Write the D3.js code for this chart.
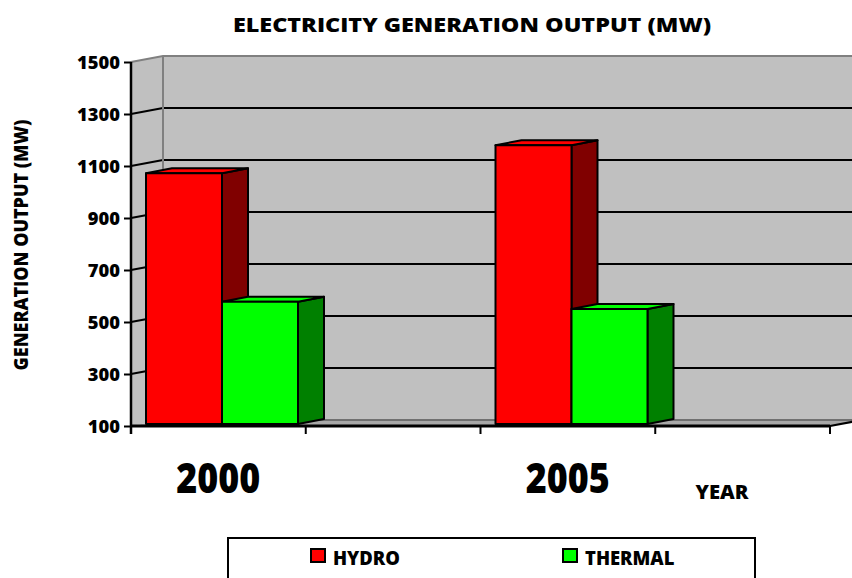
<!DOCTYPE html>
<html><head><meta charset="utf-8">
<script src="https://cdn.jsdelivr.net/npm/d3@7"></script>
<style>
body{margin:0;background:#fff}
svg{display:block}
text{font-family:"Open Sans",sans-serif;font-weight:800;fill:#000}
</style>
</head><body>
<svg id="c" width="852" height="578"></svg>
<script>
// ---- data ----
const categories = ["2000", "2005"];
const seriesNames = ["HYDRO", "THERMAL"];
const hydroValues = [1072, 1180];
const thermalValues = [578, 550];
const yTicks = [100, 300, 500, 700, 900, 1100, 1300, 1500];
const titleText = "ELECTRICITY GENERATION OUTPUT (MW)";
const yTitleText = "GENERATION OUTPUT (MW)";
const xTitleText = "YEAR";

// ---- layout ----
const svg = d3.select("#c");
const plotLeft = 131, plotRight = 830, plotTop = 62, plotBottom = 426;
const dx = 32, dy = -6;      // wall depth
const bdx = 26, bdy = -5;    // bar depth
const y = d3.scaleLinear().domain([100, 1500]).range([plotBottom, plotTop]);
const x = d3.scaleBand().domain(categories).range([plotLeft, plotRight]);
const half = x.bandwidth() / 2;
const xs = d3.scaleBand().domain(seriesNames).range([15, 167]);
const colors = {
  HYDRO: {front: "#ff0000", side: "#800000", top: "#ff0000"},
  THERMAL: {front: "#00ff00", side: "#008000", top: "#00ff00"}
};
const values = {HYDRO: hydroValues, THERMAL: thermalValues};

// Calibri-like look: font size from cap height, then horizontal scale so that a
// reference string matches its measured width in the original.
const CAP = 0.714;
function squeeze(sel, capH, refNode, refWidth, extra) {
  sel.attr("font-size", capH / CAP);
  const k = refWidth / refNode.getComputedTextLength();
  sel.each(function () {
    const t = d3.select(this);
    const tx = +t.attr("x") || 0, ty = +t.attr("y") || 0;
    t.attr("x", 0).attr("y", 0)
      .attr("transform", `translate(${tx},${ty}) ${extra || ""} scale(${k},1)`);
  });
}

// ---- walls ----
const yMax = y(1500), yMin = y(100);
svg.append("polygon")
  .attr("points", [[plotLeft, yMax], [plotLeft + dx, yMax + dy], [plotLeft + dx, yMin + dy], [plotLeft, yMin]].join(" "))
  .attr("fill", "#c0c0c0");
svg.append("rect")
  .attr("x", plotLeft + dx).attr("y", yMax + dy)
  .attr("width", plotRight - plotLeft).attr("height", yMin - yMax)
  .attr("fill", "#c0c0c0");
svg.append("polygon")
  .attr("points", [[plotLeft, yMin], [plotLeft + dx, yMin + dy], [plotRight + dx, yMin + dy], [plotRight, yMin]].join(" "))
  .attr("fill", "#a8a8a8");

// gridlines
const inner = yTicks.filter(v => v !== 100 && v !== 1500);
svg.selectAll("line.gs").data(inner).join("line").attr("class", "gs")
  .attr("x1", plotLeft).attr("y1", d => y(d))
  .attr("x2", plotLeft + dx).attr("y2", d => y(d) + dy)
  .attr("stroke", "#000").attr("stroke-width", 2);
svg.selectAll("line.gb").data(inner).join("line").attr("class", "gb")
  .attr("x1", plotLeft + dx).attr("y1", d => y(d) + dy)
  .attr("x2", plotRight + dx).attr("y2", d => y(d) + dy)
  .attr("stroke", "#000").attr("stroke-width", 2);
// wall edges (gray)
const edge = svg.append("g").attr("fill", "none").attr("stroke", "#808080").attr("stroke-width", 2);
edge.append("polyline").attr("points", [[plotLeft, yMax], [plotLeft + dx, yMax + dy], [plotRight + dx, yMax + dy]].join(" "));
edge.append("line").attr("x1", plotLeft + dx).attr("y1", yMax + dy).attr("x2", plotLeft + dx).attr("y2", yMin + dy);
edge.append("line").attr("x1", plotLeft + dx).attr("y1", yMin + dy).attr("x2", plotRight + dx).attr("y2", yMin + dy).attr("stroke", "#707070");

// ---- bars ----
const bars = [];
categories.forEach((c, i) => {
  seriesNames.forEach(s => bars.push({c, s, v: values[s][i]}));
});
const bg = svg.append("g").attr("stroke", "#000").attr("stroke-width", 2).attr("stroke-linejoin", "round");
bars.forEach(b => {
  const x0 = x(b.c) + xs(b.s), x1 = x0 + xs.bandwidth();
  const ytop = y(b.v), ybot = yMin - 2;
  const col = colors[b.s];
  bg.append("polygon").attr("fill", col.side)
    .attr("points", [[x1, ytop], [x1 + bdx, ytop + bdy], [x1 + bdx, ybot + bdy], [x1, ybot]].join(" "));
  bg.append("polygon").attr("fill", col.top)
    .attr("points", [[x0, ytop], [x0 + bdx, ytop + bdy], [x1 + bdx, ytop + bdy], [x1, ytop]].join(" "));
  bg.append("rect").attr("fill", col.front)
    .attr("x", x0).attr("y", ytop).attr("width", x1 - x0).attr("height", ybot - ytop);
});

// ---- y axis ----
const ya = svg.append("g").attr("transform", `translate(${plotLeft},0)`)
  .call(d3.axisLeft(y).tickValues(yTicks).tickSize(7).tickSizeOuter(0).tickPadding(4).tickFormat(d3.format("d")));
ya.select(".domain").remove();
ya.selectAll(".tick line").attr("stroke", "#000").attr("stroke-width", 2);
const yTickText = ya.selectAll(".tick text").attr("font-family", null).attr("dy", "0.36em");
squeeze(yTickText, 12, yTickText.filter(d => d === 1500).node(), 43);
svg.append("line").attr("x1", plotLeft).attr("y1", yMax).attr("x2", plotLeft).attr("y2", yMin + 8)
  .attr("stroke", "#000").attr("stroke-width", 2.5);

// ---- x axis ----
svg.append("line").attr("x1", plotLeft).attr("y1", yMin).attr("x2", plotRight).attr("y2", yMin)
  .attr("stroke", "#000").attr("stroke-width", 3);
svg.append("line").attr("x1", plotRight).attr("y1", yMin).attr("x2", plotRight + dx).attr("y2", yMin + dy)
  .attr("stroke", "#000").attr("stroke-width", 2);
const xTickPos = categories.flatMap(c => [x(c), x(c) + half]).concat([plotRight]);
svg.selectAll("line.xt").data(xTickPos).join("line").attr("class", "xt")
  .attr("x1", d => d).attr("x2", d => d).attr("y1", yMin).attr("y2", yMin + 8)
  .attr("stroke", "#000").attr("stroke-width", 2);
const catLabels = svg.selectAll("text.cat").data(categories).join("text").attr("class", "cat")
  .attr("x", c => x(c) + half / 2).attr("y", 493).attr("text-anchor", "middle").text(c => c);
squeeze(catLabels, 30, catLabels.node(), 84);

const xTitle = svg.append("text").attr("x", 722).attr("y", 499).attr("text-anchor", "middle").text(xTitleText);
squeeze(xTitle, 14, xTitle.node(), 53);

// ---- titles ----
const tt = svg.append("text").attr("x", 472).attr("y", 32).attr("text-anchor", "middle").text(titleText);
squeeze(tt, 14, tt.node(), 478);
const yTitle = svg.append("text").attr("x", 28).attr("y", 245).attr("text-anchor", "middle").text(yTitleText);
squeeze(yTitle, 14, yTitle.node(), 251, "rotate(-90)");

// ---- legend ----
svg.append("rect").attr("x", 228).attr("y", 538).attr("width", 527).attr("height", 60)
  .attr("fill", "#fff").attr("stroke", "#000").attr("stroke-width", 2);
const lx = d3.scalePoint().domain(seriesNames).range([311, 563]);
const lg = svg.selectAll("g.leg").data(seriesNames).join("g").attr("class", "leg")
  .attr("transform", s => `translate(${lx(s)},0)`);
lg.append("rect").attr("x", 0).attr("y", 549).attr("width", 14).attr("height", 13)
  .attr("fill", s => colors[s].front).attr("stroke", "#000").attr("stroke-width", 2);
const ltx = lg.append("text").attr("x", 22).attr("y", 565).text(s => s);
squeeze(ltx, 14, ltx.node(), 67);
</script>
</body></html>
